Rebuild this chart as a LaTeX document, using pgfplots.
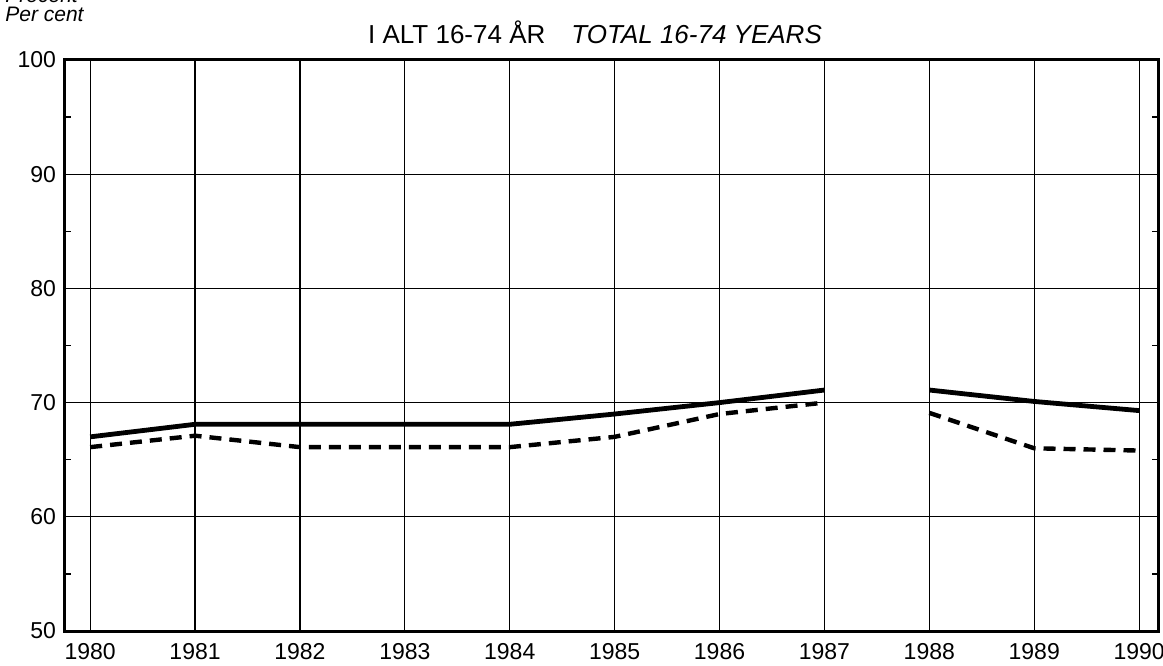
\documentclass[border=0pt]{standalone}
\usepackage{pgfplots}
\pgfplotsset{compat=1.18}
\usepackage{fontspec}
\setmainfont{Liberation Sans}
\begin{document}
\begin{tikzpicture}
\begin{axis}[
 at={(32.5pt,17pt)}, anchor=south west, scale only axis,
 width=546.5pt, height=285.5pt,
 xmin=1979.76, xmax=1990.18, ymin=50, ymax=100,
 xtick={1980,1981,...,1990}, ytick={50,60,...,100}, minor y tick num=1,
 /pgf/number format/assume math mode=true,
 /pgf/number format/set thousands separator={},
 grid=major, major grid style={black, line width=0.6pt},
 axis line style={line width=1.5pt},
 tick align=inside, major tick length=0pt, minor tick length=3pt,
 minor tick style={black, line width=0.6pt},
 xtick style={draw=none},
 ticklabel style={font=\fontsize{11.5}{13}\selectfont},
 yticklabel style={xshift=-1pt},
 xticklabel style={yshift=-2.5pt},
 unbounded coords=jump,
 clip=false,
]
\addplot[black, line width=2.4pt, line join=round] coordinates {
 (1980,67.0) (1981,68.1) (1982,68.1) (1983,68.1) (1984,68.1) (1985,69.0) (1986,70.0) (1987,71.1)
 (1987.5,nan)
 (1988,71.1) (1989,70.1) (1990,69.3)};
\addplot[black, line width=2.2pt, dash pattern=on 6pt off 4pt] coordinates {
 (1980,66.1) (1981,67.1) (1982,66.1) (1983,66.1) (1984,66.1) (1985,67.0) (1986,69.0) (1987,70.0)
 (1987.5,nan)
 (1988,69.1) (1989,66.0) (1990,65.8)};
\end{axis}
\node[anchor=center, font=\fontsize{13}{15}\selectfont] at (297.5pt,316.5pt) {I ALT 16-74 ÅR\quad\textit{TOTAL 16-74 YEARS}};
\node[anchor=west, font=\fontsize{10.5}{12}\selectfont\itshape, inner sep=0pt] at (2.5pt,325.5pt) {Per cent};
\node[anchor=west, font=\fontsize{10.5}{12}\selectfont\itshape, inner sep=0pt] at (2.5pt,335pt) {Procent};
\pgfresetboundingbox
\useasboundingbox (0,0) rectangle (581.5pt,332.5pt);
\end{tikzpicture}
\end{document}
